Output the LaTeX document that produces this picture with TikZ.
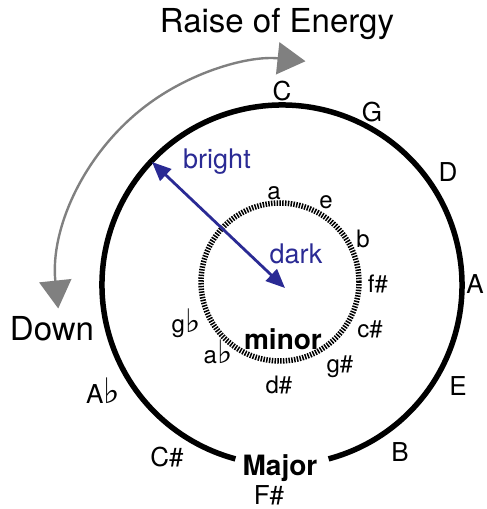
\documentclass[tikz,border=0pt]{standalone}
\usepackage{fontspec}
\setmainfont{TeX Gyre Heros}
\newfontfamily\flatfont{DejaVu Sans}
\usetikzlibrary{arrows.meta}
\definecolor{moodblue}{RGB}{42,42,148}
\definecolor{energygray}{RGB}{128,128,128}
\newcommand{\fl}{\scalebox{1.35}{\flatfont ♭}}
\tikzset{
  majkey/.style={font=\fontsize{26}{31}\selectfont},
  minkey/.style={font=\fontsize{24}{29}\selectfont,anchor=base},
  mood/.style={text=moodblue,font=\fontsize{27}{32}\selectfont,anchor=base},
  modelbl/.style={font=\fontsize{28}{34}\selectfont\bfseries,anchor=base},
  caption/.style={font=\fontsize{33}{39}\selectfont},
  moodarrow/.style={draw=moodblue,line width=2.8pt,{Triangle[length=19pt,width=16pt]}-{Triangle[length=19pt,width=16pt]}},
  energyarrow/.style={draw=energygray,line width=2.4pt,fill=none,{Triangle[length=28pt,width=32pt,fill=energygray]}-{Triangle[length=28pt,width=32pt,fill=energygray]}}
}

\begin{document}
\begin{tikzpicture}[x=1pt,y=1pt]
  \useasboundingbox (-282,-224) rectangle (205,285);

  \draw[line width=5.5pt] (-75:180) arc[start angle=-75,end angle=255,radius=180];
  \draw[line width=5.5pt,dash pattern=on 1.5pt off 1.3pt] (-2,3) circle[radius=79];

  \node[caption,anchor=base] (raise) at (-5,252) {Raise of Energy};
  \node[caption] (down) at (-230,-44) {Down};
  \coordinate (downtip) at (186:225);
  \draw[energyarrow] (downtip) arc[start angle=186,end angle=84,radius=225];

  \node[majkey] (C) at (0,194) {C};
  \node[majkey] (G) at (90,173) {G};
  \node[majkey] (D) at (166,113) {D};
  \node[majkey] (A) at (193,1) {A};
  \node[majkey] (E) at (176,-101) {E};
  \node[majkey] (B) at (118,-167) {B};
  \node[majkey] (Fs) at (-13,-210) {F\#};
  \node[majkey] (Cs) at (-115,-172) {C\#};
  \node[majkey] (Ab) at (-179,-106) {A\fl};
  \node[modelbl] (major) at (-2,-190) {Major};

  \node[minkey] (a) at (-8,85) {a};
  \node[minkey] (e) at (44,77) {e};
  \node[minkey] (b) at (81,38) {b};
  \node[minkey] (fs) at (96,-7) {f\#};
  \node[minkey] (cs) at (88,-52) {c\#};
  \node[minkey] (gs) at (58,-87) {g\#};
  \node[minkey] (ds) at (-3,-108) {d\#};
  \node[minkey] (ab) at (-64,-78) {a\fl};
  \node[minkey] (gb) at (-96,-47) {g\fl};
  \node[modelbl] (minor) at (1,-64) {minor};

  \coordinate (brightpt) at (-130,123);
  \coordinate (darkpt) at (3,-3);
  \draw[moodarrow] (brightpt) -- (darkpt);
  \node[mood] (bright) at (-65,117) {bright};
  \node[mood] (dark) at (14,22) {dark};
\end{tikzpicture}
\end{document}
